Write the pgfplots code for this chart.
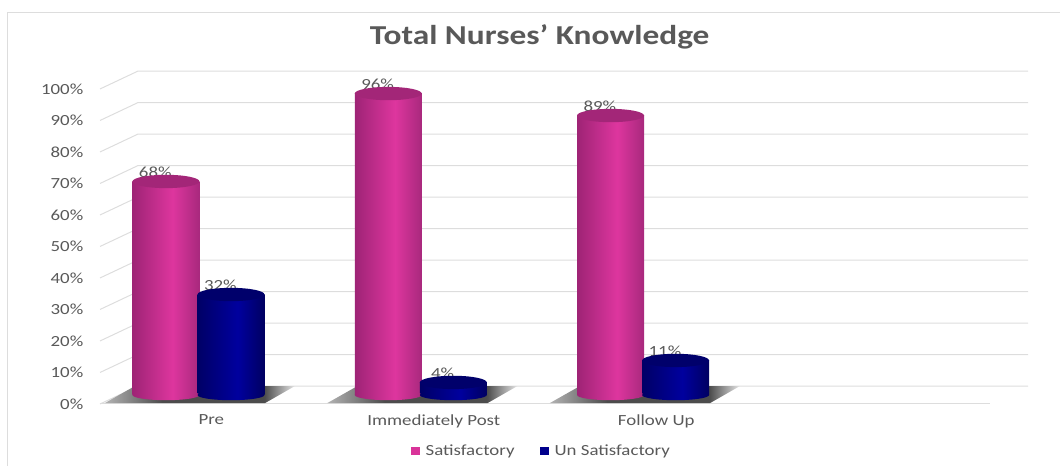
\documentclass[border=0pt]{standalone}
\usepackage{pgfplots}
\pgfplotsset{compat=1.18}
\usepackage{fontspec}
\setmainfont[FakeStretch=1.22]{Carlito}
\definecolor{txt}{HTML}{595959}
\definecolor{gridc}{HTML}{DDDDDD}
\pgfdeclarehorizontalshading{pinkcyl}{100bp}{rgb(0bp)=(.62,.14,.46); rgb(25bp)=(.62,.14,.46); rgb(55bp)=(.87,.21,.62); rgb(75bp)=(.66,.16,.49); rgb(100bp)=(.66,.16,.49)}
\pgfdeclarehorizontalshading{navycyl}{100bp}{rgb(0bp)=(0,0,.40); rgb(25bp)=(0,0,.40); rgb(55bp)=(0,0,.62); rgb(75bp)=(0,0,.38); rgb(100bp)=(0,0,.38)}
\pgfdeclarehorizontalshading{shadowfade}{100bp}{rgb(0bp)=(.70,.70,.70); rgb(25bp)=(.70,.70,.70); rgb(40bp)=(.30,.30,.30); rgb(67bp)=(.30,.30,.30); rgb(75bp)=(.90,.90,.90); rgb(100bp)=(.90,.90,.90)}
\pgfdeclareplotmark{pinkbase}{\pgfpathellipse{\pgfpointorigin}{\pgfpoint{25.1pt}{0pt}}{\pgfpoint{0pt}{3.9pt}}\pgfshadepath{pinkcyl}{0}\pgfusepath{discard}}
\pgfdeclareplotmark{navybase}{\pgfpathellipse{\pgfpointorigin}{\pgfpoint{25.1pt}{0pt}}{\pgfpoint{0pt}{3.9pt}}\pgfshadepath{navycyl}{0}\pgfusepath{discard}}
\pgfdeclareplotmark{cap}{\pgfpathellipse{\pgfpointorigin}{\pgfpoint{25.1pt}{0pt}}{\pgfpoint{0pt}{5pt}}\pgfusepathqfill}
\pgfplotstableread{
x sat uns
0 68 32
1 96 4
2 89 11
}\nursedata
\pgfplotstableread{
x zero
0 0
1 0
2 0
}\basedata
\pgfplotsset{
  pinkbar/.style={bar shift=-24.4pt, draw=none, shade, shading=pinkcyl, shading angle=0, forget plot,
    nodes near coords={\pgfmathprintnumber[assume math mode=true]{\pgfplotspointmeta}\%},
    point meta=y,
    every node near coord/.style={anchor=center, xshift=-32.4pt, yshift=7pt, font=\fontsize{11.6pt}{13pt}\selectfont, text=txt}},
  navybar/.style={bar shift=24.4pt, draw=none, shade, shading=navycyl, shading angle=0, forget plot,
    nodes near coords={\pgfmathprintnumber[assume math mode=true]{\pgfplotspointmeta}\%},
    point meta=y,
    every node near coord/.style={anchor=center, xshift=16.4pt, yshift=7pt, font=\fontsize{11.6pt}{13pt}\selectfont, text=txt}},
}
\begin{document}
\begin{tikzpicture}
\useasboundingbox (0,0) rectangle (795pt,349.5pt);
\draw[gridc,line width=0.7pt] (5.6pt,0) -- (5.6pt,340.5pt) -- (795pt,340.5pt);
\begin{axis}[
  at={(75pt,46.5pt)}, anchor=south west, scale only axis,
  width=667.5pt, height=236.25pt,
  xmin=-0.5, xmax=3.5, ymin=0, ymax=100, clip=false,
  axis line style={draw=none}, major tick length=0pt,
  xtick={0,1,2}, xticklabels={Pre,Immediately Post,Follow Up},
  ytick={0,10,...,100},
  yticklabel={\pgfmathprintnumber[assume math mode=true]{\tick}\%},
  tick label style={font=\fontsize{11.6pt}{13pt}\selectfont, text=txt},
  y tick label style={xshift=-9pt},
  x tick label style={yshift=-4.5pt},
  title={\textbf{Total Nurses' Knowledge}},
  title style={at={(0.494,1.139)}, anchor=center, font=\fontsize{20.5pt}{24pt}\selectfont, text=txt},
]
\foreach \v/\w in {0/5.7,10/15.7,20/25.7,30/35.7,40/45.7,50/55.7,60/65.7,70/75.7,80/85.7,90/95.7,100/105.7}{
  \edef\temp{\noexpand\addplot[gridc, line width=0.75pt, forget plot] coordinates {(-0.5,\v) (-0.329,\w) (3.671,\w)};}
  \temp
}
\addplot[gridc, line width=0.75pt, forget plot] coordinates {(-0.5,0) (3.5,0)};
\addplot[draw=none, shade, shading=shadowfade, shading angle=0, forget plot] coordinates {(-0.478,0.3) (-0.343,5.7) (0.376,5.7) (0.242,0.3)} -- cycle;
\addplot[draw=none, shade, shading=shadowfade, shading angle=0, forget plot] coordinates {(0.522,0.3) (0.657,5.7) (1.376,5.7) (1.242,0.3)} -- cycle;
\addplot[draw=none, shade, shading=shadowfade, shading angle=0, forget plot] coordinates {(1.522,0.3) (1.657,5.7) (2.376,5.7) (2.242,0.3)} -- cycle;
\end{axis}
\begin{axis}[
  at={(65.5pt,53.25pt)}, anchor=south west, scale only axis,
  width=666.9pt, height=235.5pt,
  xmin=-0.5, xmax=3.5, ymin=0, ymax=100, clip=false, hide axis,
  ybar, bar width=50.25pt,
  legend style={at={(0.511,-0.178)}, anchor=center, draw=none, fill=none,
    legend columns=2, font=\fontsize{11.6pt}{13pt}\selectfont, text=txt,
    /tikz/every odd column/.append style={column sep=2.5pt},
    /tikz/every even column/.append style={column sep=17pt}},
  legend image code/.code={\fill[#1,draw=none] (0,-3.2pt) rectangle (6.5pt,3.2pt);},
]
% pink
\addplot[only marks, mark=pinkbase, xshift=-24.4pt, forget plot] table[x=x,y=zero]{\basedata};
\addplot[pinkbar] coordinates {(0,68)};
\addplot[pinkbar] coordinates {(1,96)};
\addplot[pinkbar] coordinates {(2,89)};
\addplot[only marks, mark=cap, color={rgb,1:red,.64;green,.15;blue,.47}, mark options={draw=none}, xshift=-24.4pt, forget plot] table[x=x,y=sat]{\nursedata};
% navy
\addplot[only marks, mark=navybase, xshift=24.4pt, forget plot] table[x=x,y=zero]{\basedata};
\addplot[navybar] coordinates {(0,32)};
\addplot[navybar] coordinates {(1,4)};
\addplot[navybar] coordinates {(2,11)};
\addplot[only marks, mark=cap, color={rgb,1:red,0;green,0;blue,.42}, mark options={draw=none}, xshift=24.4pt, forget plot] table[x=x,y=uns]{\nursedata};
\addlegendimage{fill={rgb,1:red,.85;green,.2;blue,.6}}
\addlegendentry{Satisfactory}
\addlegendimage{fill={rgb,1:red,0;green,0;blue,.55}}
\addlegendentry{Un Satisfactory}
\end{axis}
\end{tikzpicture}
\end{document}
